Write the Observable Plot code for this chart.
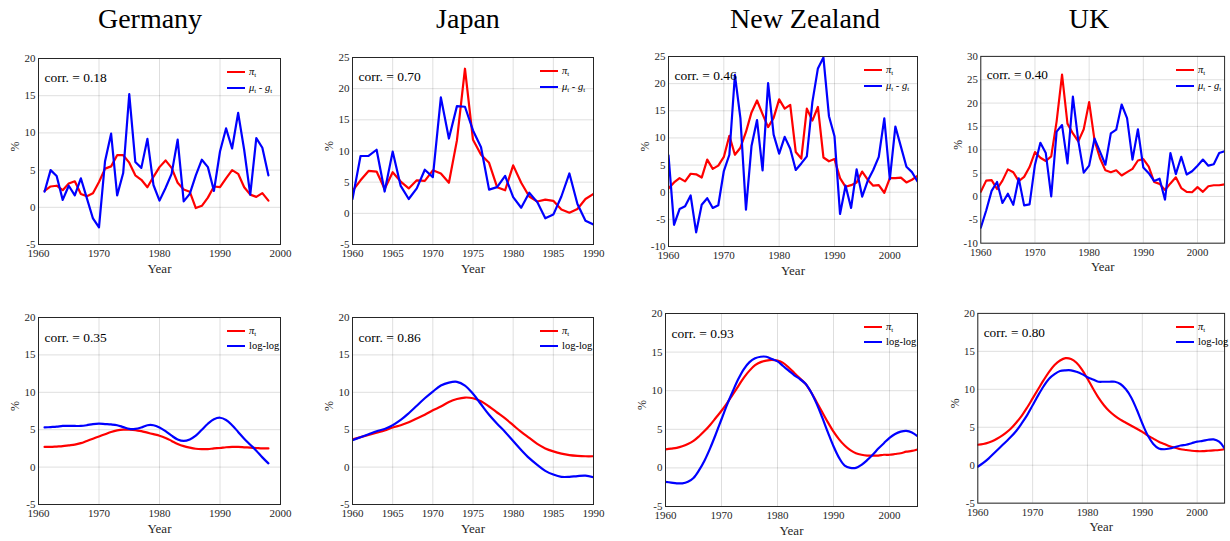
<!DOCTYPE html>
<html><head><meta charset="utf-8">
<script src="https://cdn.jsdelivr.net/npm/d3@7"></script>
<script src="https://cdn.jsdelivr.net/npm/@observablehq/plot@0.6"></script>
<style>
html,body{margin:0;padding:0;background:#fff;overflow:hidden;}
#root{position:relative;width:1230px;height:541px;font-family:"Liberation Serif","Times New Roman",serif;color:#000;}
.title{position:absolute;top:2px;font-size:28px;transform:translateX(-50%);white-space:nowrap;line-height:34px;}
.panel{position:absolute;}
.lg-line{position:absolute;height:2px;width:18px;}
.lg-text{position:absolute;font-size:10.5px;line-height:12px;white-space:nowrap;color:#000;}
.lg-text sub{font-size:7px;vertical-align:-2px;}
</style></head><body><div id="root"></div>
<script>
// ---------- data ----------
const countries = ["Germany", "Japan", "New Zealand", "UK"];
const corrTop = ["0.18", "0.70", "0.46", "0.40"];
const corrBottom = ["0.35", "0.86", "0.93", "0.80"];
const startYears = [1961, 1960, 1960, 1960];

// top row: inflation pi_t and mu_t - g_t
const germanyPi = [2.2,2.8,2.9,2.3,3.2,3.5,1.8,1.5,1.9,3.4,5.2,5.5,7.0,7.0,6.0,4.3,3.7,2.7,4.1,5.4,6.3,5.3,3.3,2.4,2.1,-0.1,0.2,1.3,2.8,2.7,3.9,5.0,4.5,2.7,1.7,1.4,1.9,0.9];
const germanyMuG = [2.1,5.0,4.2,1.0,2.9,1.6,3.9,1.2,-1.5,-2.7,6.2,9.9,1.6,4.6,15.2,6.1,5.3,9.2,3.0,0.9,2.6,4.5,9.1,0.8,1.8,4.3,6.4,5.4,2.2,7.5,10.6,7.9,12.7,7.7,1.7,9.3,8.0,4.3];
const japanPi = [3.6,5.3,6.8,6.7,3.9,6.6,5.1,4.0,5.3,5.2,6.9,6.4,4.9,11.7,23.2,11.8,9.4,8.1,4.2,3.7,7.7,4.9,2.7,1.9,2.2,2.0,0.6,0.1,0.7,2.3,3.1];
const japanMuG = [2.3,9.2,9.2,10.2,3.5,9.9,4.4,2.3,4.0,7.0,5.8,18.6,12.0,17.2,17.1,13.3,10.6,3.8,4.2,6.0,2.6,0.9,3.3,1.8,-0.8,-0.2,2.7,6.4,1.5,-1.2,-1.8];
const nzPi = [0.7,1.8,2.6,2.0,3.4,3.3,2.7,6.0,4.3,4.9,6.5,10.4,6.9,8.2,11.1,14.7,16.9,14.4,12.0,13.7,17.1,15.4,16.1,7.4,6.2,15.4,13.2,15.7,6.4,5.7,6.1,2.6,1.0,1.3,1.8,3.8,2.3,1.2,1.3,-0.1,2.6,2.6,2.7,1.8,2.3,3.0];
const nzMuG = [6.8,-6.0,-3.1,-2.6,-0.6,-7.4,-2.3,-1.1,-2.9,-2.4,3.9,6.9,21.6,13.6,-3.2,8.5,13.3,4.0,20.1,10.6,7.1,10.2,8.0,4.1,5.3,6.6,16.6,22.8,24.8,14.0,10.3,-4.0,1.2,-2.9,4.2,-0.8,2.1,4.1,6.5,13.6,2.4,12.1,8.4,4.7,3.7,2.0];
const ukPi = [1.0,3.4,3.5,1.6,3.4,5.8,5.2,3.3,4.2,6.3,9.5,8.3,7.6,8.6,16.1,26.1,15.6,13.5,11.8,14.4,20.2,12.0,8.2,5.6,5.2,5.6,4.5,5.2,5.9,7.7,8.0,6.4,3.1,2.7,1.4,2.8,4.1,1.8,1.0,0.9,2.0,1.0,2.2,2.4,2.4,2.6];
const ukMuG = [-6.7,-3.0,1.2,3.1,-1.4,0.6,-1.8,3.9,-1.9,-1.7,6.8,11.5,9.3,0.0,13.9,15.3,7.1,21.4,11.9,5.1,6.6,12.4,9.6,6.8,13.5,14.3,19.7,16.8,7.9,14.4,6.2,5.0,3.3,3.8,-0.7,9.3,4.8,8.5,4.7,5.4,6.6,7.9,6.6,6.9,9.3,9.7];

// bottom row: smoothed pi_t and log-log prediction
const germanyPiSmooth = [2.7,2.7,2.75,2.8,2.9,3.0,3.2,3.5,3.8,4.1,4.4,4.7,4.9,5.0,5.0,4.95,4.8,4.6,4.4,4.2,3.9,3.5,3.1,2.8,2.6,2.45,2.4,2.4,2.5,2.55,2.65,2.7,2.7,2.65,2.6,2.55,2.5,2.5];
const germanyLogLog = [5.3,5.35,5.4,5.5,5.5,5.5,5.5,5.6,5.75,5.8,5.75,5.7,5.6,5.35,5.1,5.1,5.3,5.6,5.6,5.3,4.8,4.2,3.7,3.5,3.7,4.2,5.0,5.8,6.4,6.6,6.3,5.6,4.7,3.8,3.0,2.2,1.3,0.5];
const japanPiSmooth = [3.7,4.0,4.3,4.6,4.9,5.3,5.6,6.0,6.5,7.0,7.6,8.1,8.7,9.1,9.3,9.2,8.8,8.1,7.3,6.5,5.6,4.7,3.9,3.1,2.5,2.1,1.8,1.6,1.5,1.45,1.45];
const japanLogLog = [3.6,4.0,4.4,4.8,5.1,5.6,6.3,7.2,8.2,9.2,10.1,10.9,11.3,11.4,10.9,9.8,8.4,7.0,5.8,4.7,3.5,2.3,1.2,0.3,-0.5,-1.0,-1.3,-1.3,-1.2,-1.15,-1.35];
const nzPiSmooth = [2.4,2.5,2.6,2.8,3.1,3.5,4.1,4.8,5.6,6.5,7.4,8.4,9.5,10.6,11.7,12.6,13.3,13.7,13.9,14.0,13.9,13.6,13.0,12.3,11.6,10.9,9.8,8.5,7.2,5.9,4.7,3.7,2.9,2.3,1.9,1.7,1.6,1.6,1.6,1.7,1.7,1.8,1.9,2.1,2.2,2.4];
const nzLogLog = [-1.8,-1.9,-2.0,-2.0,-1.8,-1.3,-0.3,1.0,2.6,4.4,6.3,8.2,9.9,11.5,12.8,13.7,14.2,14.4,14.4,14.1,13.8,13.2,12.6,12.0,11.5,10.9,9.8,8.3,6.5,4.6,2.8,1.3,0.3,0.0,0.0,0.4,1.0,1.7,2.5,3.2,3.9,4.4,4.7,4.8,4.6,4.1];
const ukPiSmooth = [2.7,2.8,3.0,3.3,3.7,4.2,4.8,5.6,6.5,7.6,8.8,10.0,11.2,12.3,13.2,13.8,14.1,14.0,13.5,12.6,11.4,10.1,8.9,7.9,7.1,6.5,6.0,5.6,5.2,4.8,4.4,3.9,3.5,3.1,2.8,2.5,2.3,2.1,2.0,1.9,1.85,1.85,1.9,1.95,2.0,2.1];
const ukLogLog = [-0.2,0.3,0.9,1.6,2.3,3.0,3.7,4.5,5.5,6.6,7.9,9.2,10.4,11.4,12.0,12.4,12.5,12.5,12.3,12.0,11.6,11.3,11.0,11.0,11.0,11.0,10.7,10.0,8.9,7.3,5.5,3.9,2.8,2.2,2.1,2.2,2.4,2.6,2.7,2.9,3.1,3.2,3.35,3.4,3.1,2.2];

// axis ticks
const xTicksDecade = [1960, 1970, 1980, 1990, 2000];
const xTicksJapan = [1960, 1965, 1970, 1975, 1980, 1985, 1990];
const yTicksGermanyTop = [-5, 0, 5, 10, 15, 20];
const yTicksJapanTop = [-5, 0, 5, 10, 15, 20, 25];
const yTicksNZTop = [-10, -5, 0, 5, 10, 15, 20, 25];
const yTicksUKTop = [-10, -5, 0, 5, 10, 15, 20, 25, 30];
const yTicksBottom = [-5, 0, 5, 10, 15, 20];

// ---------- layout ----------
const root = document.getElementById("root");
const titleCenters = [150, 468, 805, 1089];
countries.forEach((c, i) => {
  const t = document.createElement("div");
  t.className = "title";
  t.style.left = titleCenters[i] + "px";
  t.textContent = c;
  root.appendChild(t);
});

const topSeries = [[germanyPi, germanyMuG], [japanPi, japanMuG], [nzPi, nzMuG], [ukPi, ukMuG]];
const bottomSeries = [[germanyPiSmooth, germanyLogLog], [japanPiSmooth, japanLogLog], [nzPiSmooth, nzLogLog], [ukPiSmooth, ukLogLog]];

const panels = [
  {L:38, R:280, T:58, B:244, xd:[1960,2000], xt:xTicksDecade, yd:[-5,20], yt:yTicksGermanyTop, row:0, c:0},
  {L:352, R:593, T:57, B:244, xd:[1960,1990], xt:xTicksJapan, yd:[-5,25], yt:yTicksJapanTop, row:0, c:1},
  {L:668, R:917, T:56, B:246, xd:[1960,2005], xt:xTicksDecade, yd:[-10,25], yt:yTicksNZTop, row:0, c:2},
  {L:981, R:1229, T:56, B:246, xd:[1960,2005], xt:xTicksDecade, yd:[-10,30], yt:yTicksUKTop, row:0, c:3},
  {L:38, R:280, T:317, B:504, xd:[1960,2000], xt:xTicksDecade, yd:[-5,20], yt:yTicksBottom, row:1, c:0},
  {L:352, R:593, T:317, B:504, xd:[1960,1990], xt:xTicksJapan, yd:[-5,20], yt:yTicksBottom, row:1, c:1},
  {L:665, R:917, T:313, B:506, xd:[1960,2005], xt:xTicksDecade, yd:[-5,20], yt:yTicksBottom, row:1, c:2},
  {L:978, R:1229, T:313, B:506, xd:[1960,2005], xt:xTicksDecade, yd:[-5,20], yt:yTicksBottom, row:1, c:3}
];

const mL = 42, mR = 6, mT = 6, mB = 36;
const fmt = d => String(d);

panels.forEach(p => {
  const pair = p.row === 0 ? topSeries[p.c] : bottomSeries[p.c];
  const y0 = startYears[p.c];
  const data = [];
  pair[0].forEach((v, i) => data.push({year: y0 + i, value: v, series: "pi"}));
  pair[1].forEach((v, i) => data.push({year: y0 + i, value: v, series: "other"}));
  const corr = "corr. = " + (p.row === 0 ? corrTop[p.c] : corrBottom[p.c]);

  const chart = Plot.plot({
    width: p.R - p.L + mL + mR,
    height: p.B - p.T + mT + mB,
    marginLeft: mL, marginRight: mR, marginTop: mT, marginBottom: mB,
    style: {fontFamily: '"Liberation Serif","Times New Roman",serif', fontSize: "11px", color: "#262626", background: "transparent", overflow: "visible"},
    x: {domain: p.xd},
    y: {domain: p.yd},
    color: {domain: ["pi", "other"], range: ["#ff0000", "#0000ff"]},
    marks: [
      Plot.gridX(p.xt, {stroke: "#000", strokeOpacity: 0.13}),
      Plot.gridY(p.yt, {stroke: "#000", strokeOpacity: 0.13}),
      Plot.axisX(p.xt, {tickSize: 0, tickPadding: 5, tickFormat: fmt, label: null, fontSize: 11}),
      Plot.axisY(p.yt, {tickSize: 0, tickPadding: 3, tickFormat: fmt, label: null, fontSize: 11}),
      Plot.line(data, {x: "year", y: "value", z: "series", stroke: "series", strokeWidth: 2.2,
        curve: p.row === 0 ? "linear" : "catmull-rom", clip: true}),
      Plot.frame({stroke: "#262626", strokeWidth: 1}),
      Plot.text([corr], {text: d => d, frameAnchor: "top-left", dx: 6, dy: p.row === 0 ? 19 : 20,
        textAnchor: "start", lineAnchor: "middle", fontSize: 13.5, fill: "#000"}),
      Plot.text(["Year"], {text: d => d, frameAnchor: "bottom", dy: 24, lineAnchor: "middle", fontSize: 13, fill: "#262626"}),
      Plot.text(["%"], {text: d => d, frameAnchor: "left", dx: -23, rotate: -90, lineAnchor: "middle", fontSize: 12, fill: "#262626"})
    ]
  });
  const holder = document.createElement("div");
  holder.className = "panel";
  holder.style.left = (p.L - mL) + "px";
  holder.style.top = (p.T - mT) + "px";
  holder.appendChild(chart);
  root.appendChild(holder);

  // legend
  const rows = p.row === 0
    ? ['<i>π</i><sub>t</sub>', '<i>μ</i><sub>t</sub> - <i>g</i><sub>t</sub>']
    : ['<i>π</i><sub>t</sub>', 'log-log'];
  const colors = ["#ff0000", "#0000ff"];
  const gap = p.row === 0 ? 16 : 15;
  rows.forEach((html, i) => {
    const cy = p.T + 14 + i * gap;
    const ln = document.createElement("div");
    ln.className = "lg-line";
    ln.style.background = colors[i];
    ln.style.left = (p.R - 53) + "px";
    ln.style.top = (cy - 1) + "px";
    root.appendChild(ln);
    const tx = document.createElement("div");
    tx.className = "lg-text";
    tx.innerHTML = html;
    tx.style.left = (p.R - 31) + "px";
    tx.style.top = (cy - 6) + "px";
    root.appendChild(tx);
  });
});
</script></body></html>
